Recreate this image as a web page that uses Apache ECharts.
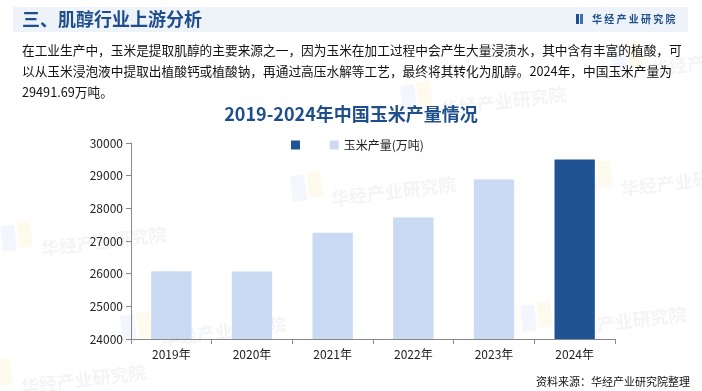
<!DOCTYPE html>
<html>
<head>
<meta charset="utf-8">
<script src="https://cdn.jsdelivr.net/npm/echarts@6/dist/echarts.min.js"></script>
<style>html,body{margin:0;padding:0;background:#fff}#c{width:702px;height:391px}</style>
</head>
<body>
<div id="c"></div>
<script>
var years = ['2019年', '2020年', '2021年', '2022年', '2023年', '2024年'];
var production = [26077, 26067, 27255, 27720, 28884, 29491.69];
var seriesName = '玉米产量(万吨)';
var yTicks = {min: 24000, max: 30000, interval: 1000};
var pageTitle = '三、肌醇行业上游分析';
var chartTitle = '2019-2024年中国玉米产量情况';
var paragraph = [
  '在工业生产中，玉米是提取肌醇的主要来源之一，因为玉米在加工过程中会产生大量浸渍水，其中含有丰富的植酸，可',
  '以从玉米浸泡液中提取出植酸钙或植酸钠，再通过高压水解等工艺，最终将其转化为肌醇。2024年，中国玉米产量为',
  '29491.69万吨。'
];
var source = '资料来源：华经产业研究院整理';

var light = '#C9DAF2', dark = '#1F5394', titleBlue = '#1F4E8C';
var lastIdx = production.length - 1;
var lightData = production.map(function (v, i) { return i === lastIdx ? '-' : v; });
var darkData = production.map(function (v, i) { return i === lastIdx ? v : '-'; });

var font = '"Noto Sans CJK SC", "Noto Sans", sans-serif';
var wm = [];
var wmPos = [[40, 240], [440, 100], [160, 330], [560, 320], [330, 190], [650, 60], [20, 378], [620, 180]];
wmPos.forEach(function (p) {
  wm.push({type: 'text', x: p[0], y: p[1], rotation: 0.12, z: -1,
    style: {text: '华经产业研究院', font: 'bold 18px ' + font, fill: 'rgba(190,195,205,0.18)'}});
  wm.push({type: 'rect', x: p[0] - 40, y: p[1] - 14, rotation: 0.12, z: -1,
    shape: {width: 14, height: 26}, style: {fill: 'rgba(200,215,240,0.22)'}});
  wm.push({type: 'rect', x: p[0] - 24, y: p[1] - 18, rotation: 0.12, z: -1,
    shape: {width: 14, height: 26}, style: {fill: 'rgba(250,240,190,0.26)'}});
});

var chart = echarts.init(document.getElementById('c'));
chart.setOption({
  animation: false,
  textStyle: {fontFamily: font},
  graphic: wm.concat([
    {type: 'rect', shape: {x: 13, y: 7, width: 675, height: 25}, style: {fill: '#EEF3FA'}},
    {type: 'text', x: 22, y: 19, style: {text: pageTitle, font: 'bold 18px ' + font, fill: titleBlue, verticalAlign: 'middle'}},
    {type: 'rect', shape: {x: 576, y: 14, width: 3, height: 10}, style: {fill: titleBlue}},
    {type: 'rect', shape: {x: 580, y: 14, width: 3, height: 10}, style: {fill: '#3A6FB5'}},
    {type: 'text', x: 592, y: 19, style: {text: '华 经 产 业 研 究 院', font: 'bold 10px ' + font, fill: titleBlue, verticalAlign: 'middle'}},
    {type: 'text', x: 22, y: 50, style: {text: paragraph[0], font: '12.7px ' + font, fill: '#111', verticalAlign: 'middle'}},
    {type: 'text', x: 22, y: 71, style: {text: paragraph[1], font: '12.7px ' + font, fill: '#111', verticalAlign: 'middle'}},
    {type: 'text', x: 22, y: 92, style: {text: paragraph[2], font: '12.7px ' + font, fill: '#111', verticalAlign: 'middle'}},
    {type: 'text', x: 690, y: 382, style: {text: source, font: '11px ' + font, fill: '#111', align: 'right', verticalAlign: 'middle'}}
  ]),
  title: {
    text: chartTitle, left: 'center', top: 100,
    textStyle: {fontSize: 18, fontWeight: 'bold', color: titleBlue, fontFamily: font}
  },
  legend: {
    left: 286, top: 134, itemWidth: 9, itemHeight: 9, itemGap: 22,
    data: [{name: ' ', icon: 'rect'}, {name: seriesName, icon: 'rect'}],
    textStyle: {fontSize: 12, color: '#222'}
  },
  grid: {left: 131, right: 87, top: 143, bottom: 52},
  xAxis: {
    type: 'category', data: years,
    axisLine: {lineStyle: {color: '#888'}},
    axisTick: {show: true, alignWithLabel: false, lineStyle: {color: '#888'}},
    axisLabel: {color: '#222', fontSize: 12, margin: 9}
  },
  yAxis: {
    type: 'value', min: yTicks.min, max: yTicks.max, interval: yTicks.interval,
    axisLine: {show: true, lineStyle: {color: '#888'}},
    axisTick: {show: true, lineStyle: {color: '#888'}},
    splitLine: {show: false},
    axisLabel: {color: '#222', fontSize: 12, margin: 8, formatter: function (v) { return String(v); }}
  },
  series: [
    {name: seriesName, type: 'bar', data: lightData, barWidth: '50%', barGap: '-100%', itemStyle: {color: light}},
    {name: ' ', type: 'bar', data: darkData, barWidth: '50%', itemStyle: {color: dark}}
  ]
});
</script>
</body>
</html>
